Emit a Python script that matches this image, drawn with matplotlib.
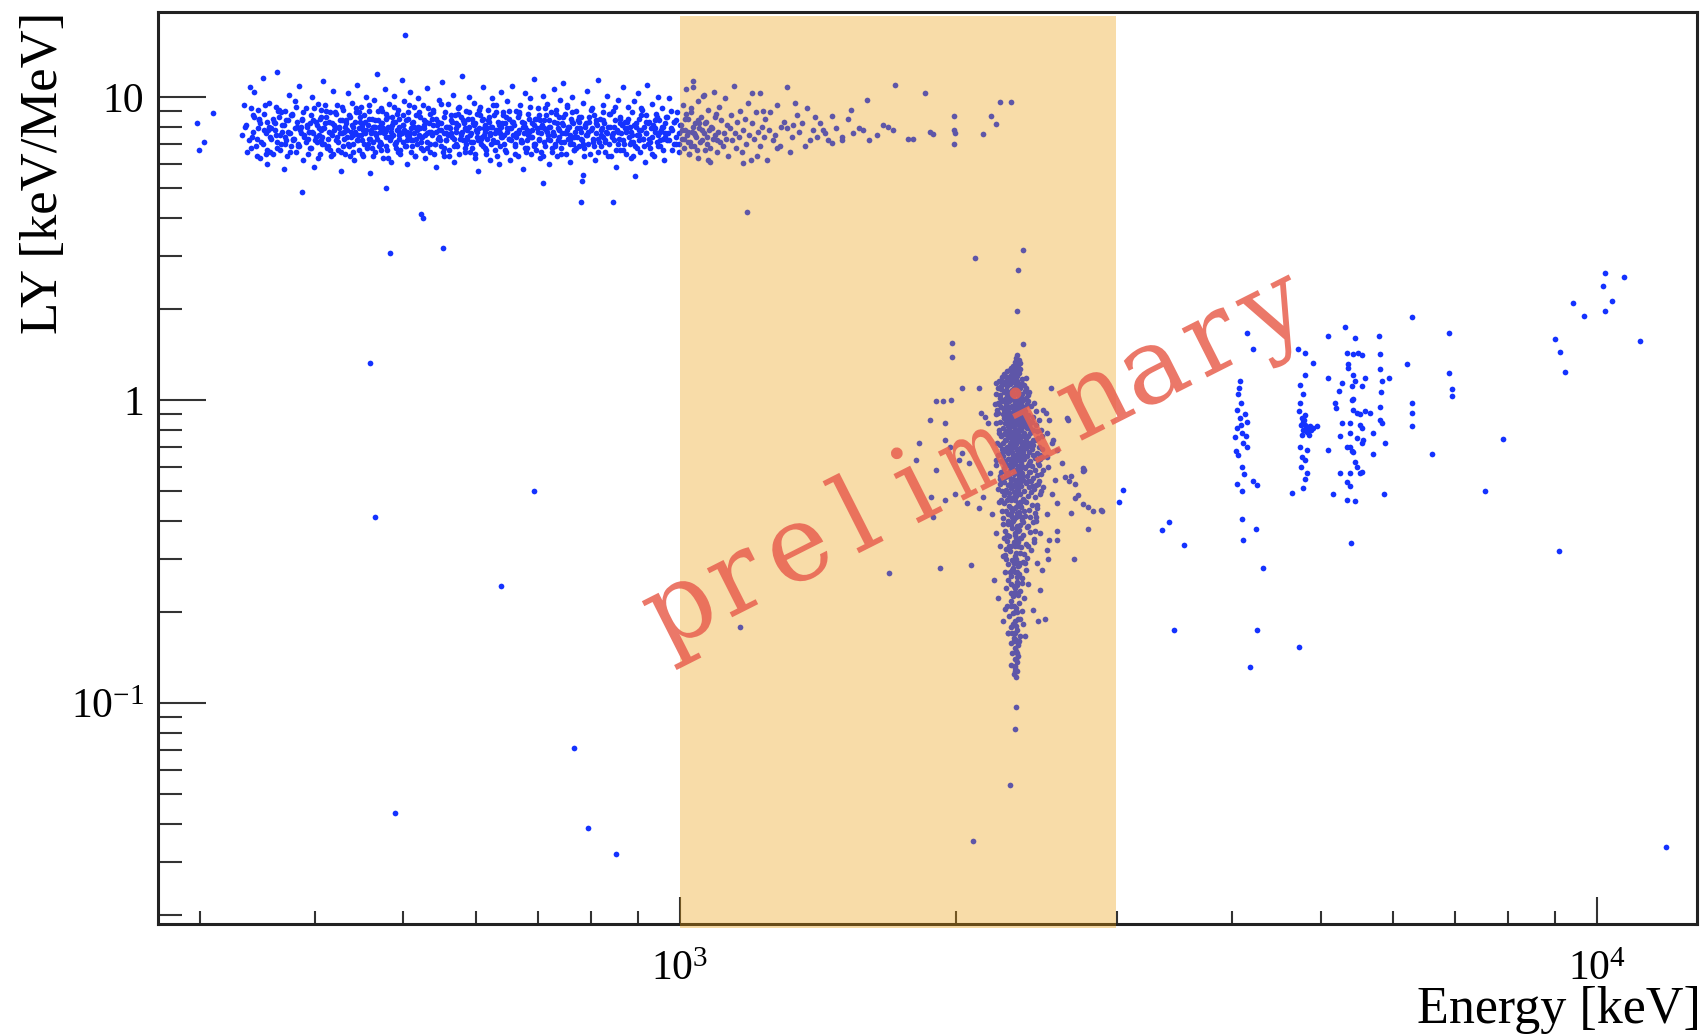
import numpy as np
import matplotlib.pyplot as plt
from matplotlib.patches import Rectangle, PathPatch
from matplotlib.textpath import TextPath
from matplotlib.font_manager import FontProperties
from matplotlib.transforms import Affine2D, IdentityTransform
from matplotlib.ticker import FixedLocator, FixedFormatter, LogLocator, NullFormatter

plt.rcParams['font.family'] = ['Liberation Serif', 'DejaVu Serif']
plt.rcParams['mathtext.fontset'] = 'custom'
plt.rcParams['mathtext.rm'] = 'Liberation Serif'
plt.rcParams['mathtext.default'] = 'rm'

# points: (energy [keV], LY [keV/MeV])
band_a = [
    (333, 7.5), (335, 9.4), (337, 8.1), (338, 6.6), (340, 10.8), (341, 6.8), (343, 8.7), (344, 10.4),
    (346, 7.3), (347, 9.1), (348, 8.5), (349, 6.3), (351, 11.6), (352, 7.8), (354, 6.5), (355, 6.0),
    (355, 8.3), (357, 9.6), (358, 7.4), (359, 7.9), (360, 6.5), (362, 8.2), (363, 9.3), (364, 12.1),
    (364, 7.1), (366, 8.6), (367, 6.7), (368, 8.9), (369, 7.7), (370, 5.8), (371, 9.0), (372, 7.2),
    (374, 8.4), (375, 10.2), (376, 7.6), (377, 6.9), (378, 8.8), (379, 7.3), (381, 9.7), (382, 6.6),
    (383, 8.0), (384, 7.0), (385, 10.9), (386, 7.8), (388, 8.5), (389, 6.2), (390, 7.5), (391, 9.2),
    (392, 8.1), (393, 7.3), (395, 6.8), (396, 8.7), (397, 10.0), (398, 7.6), (399, 5.9), (401, 8.3),
    (402, 7.1), (403, 9.5), (404, 7.9), (405, 6.5), (407, 8.6), (408, 7.4), (409, 11.3), (410, 7.0),
    (411, 8.2), (412, 9.0), (414, 6.9), (415, 7.7), (416, 8.9), (417, 6.4), (418, 7.5), (419, 10.5),
    (421, 8.0), (422, 7.2), (423, 9.4), (424, 6.7), (425, 7.9), (426, 8.4), (427, 5.7), (429, 7.6),
    (371, 7.4), (387, 8.0), (394, 7.7), (406, 7.8), (420, 8.1),
]
band_b = [
    (430, 9.1), (431, 7.3), (432, 6.5), (433, 8.2), (434, 7.8), (435, 10.3), (436, 6.9), (437, 8.6),
    (438, 7.4), (439, 9.6), (440, 7.0), (441, 8.0), (442, 6.2), (443, 7.7), (444, 8.9), (445, 11.0),
    (446, 7.5), (447, 6.7), (448, 8.3), (449, 9.3), (450, 7.2), (451, 7.9), (452, 6.4), (453, 8.7),
    (454, 7.6), (455, 10.0), (456, 6.8), (457, 8.1), (458, 7.3), (459, 9.0), (460, 5.6), (461, 7.8),
    (462, 8.5), (463, 7.1), (464, 9.8), (465, 6.6), (466, 8.0), (467, 7.5), (468, 11.9), (469, 8.4),
    (470, 6.9), (471, 7.7), (472, 9.2), (473, 7.0), (474, 8.2), (475, 6.3), (476, 7.6), (477, 10.6),
    (478, 8.8), (479, 7.4), (480, 6.7), (481, 8.0), (482, 9.5), (483, 7.2), (484, 7.9), (485, 6.1),
    (486, 8.6), (487, 7.5), (488, 10.1), (489, 7.0), (490, 8.3), (491, 6.8), (492, 7.8), (493, 9.1),
    (494, 7.3), (495, 8.5), (496, 6.5), (497, 7.6), (498, 11.4), (499, 8.1), (500, 7.1), (501, 9.7),
    (502, 6.9), (503, 8.4), (504, 7.7), (505, 6.0), (506, 8.9), (507, 7.4), (508, 10.4), (509, 7.9),
    (510, 6.6), (511, 8.2), (512, 7.2), (513, 9.3), (514, 7.6), (515, 6.4), (516, 8.7), (517, 7.0),
    (518, 9.9), (519, 8.0), (520, 7.5), (447, 7.9), (463, 8.0), (478, 7.8), (494, 7.7),
]
band_c = [
    (521, 8.6), (522, 6.8), (524, 7.4), (525, 9.4), (526, 7.9), (528, 6.3), (529, 8.3), (530, 7.1),
    (531, 10.7), (533, 7.7), (534, 8.8), (535, 6.6), (537, 7.5), (538, 9.1), (539, 8.1), (541, 7.0),
    (542, 5.9), (543, 8.5), (545, 7.3), (546, 9.8), (547, 7.8), (549, 6.9), (550, 8.2), (551, 11.2),
    (553, 7.6), (554, 6.4), (555, 8.9), (557, 7.2), (558, 8.0), (559, 9.5), (561, 6.7), (562, 7.9),
    (563, 8.4), (565, 7.4), (566, 10.2), (567, 6.1), (569, 8.7), (570, 7.7), (571, 7.0), (573, 9.2),
    (574, 8.1), (575, 6.5), (577, 7.5), (578, 8.6), (579, 11.7), (581, 7.2), (582, 8.3), (583, 6.8),
    (585, 9.0), (586, 7.8), (587, 7.3), (589, 8.0), (590, 10.0), (591, 6.6), (593, 7.6), (594, 8.5),
    (595, 7.1), (597, 9.6), (598, 6.3), (599, 8.2), (601, 7.4), (602, 8.8), (603, 5.7), (605, 7.9),
    (606, 9.3), (607, 7.0), (609, 8.4), (610, 6.9), (611, 10.8), (613, 7.7), (614, 8.1), (615, 6.5),
    (617, 7.3), (618, 9.1), (619, 8.6), (621, 7.5), (622, 6.2), (623, 8.0), (625, 9.9), (626, 7.2),
    (627, 8.7), (629, 6.7), (630, 7.8), (631, 9.4), (633, 7.1), (634, 8.3), (635, 6.0), (637, 7.6),
    (638, 10.4), (639, 8.0), (640, 7.4), (556, 7.6), (584, 7.9), (612, 7.5), (636, 7.8),
]
band_d = [
    (642, 8.9), (643, 7.0), (645, 8.2), (646, 6.6), (648, 7.7), (649, 9.7), (651, 7.3), (652, 8.5),
    (654, 6.2), (655, 7.9), (657, 10.9), (658, 7.5), (660, 8.1), (661, 6.9), (663, 9.0), (664, 7.4),
    (666, 8.6), (667, 6.4), (669, 7.8), (670, 9.4), (672, 7.1), (673, 8.3), (675, 5.8), (676, 7.6),
    (678, 10.3), (679, 8.0), (681, 6.8), (682, 7.2), (684, 8.8), (685, 7.7), (687, 9.9), (688, 6.5),
    (690, 8.2), (691, 7.4), (693, 11.5), (694, 7.0), (696, 8.5), (697, 6.7), (699, 7.9), (700, 9.2),
    (702, 7.3), (703, 8.7), (705, 6.3), (706, 7.6), (708, 8.1), (709, 10.1), (711, 7.1), (712, 8.4),
    (714, 6.9), (715, 7.8), (717, 9.5), (718, 7.5), (720, 6.0), (721, 8.0), (723, 7.2), (724, 8.9),
    (726, 6.6), (727, 7.7), (729, 10.6), (730, 8.3), (732, 7.0), (733, 9.1), (735, 6.4), (736, 7.9),
    (738, 8.6), (739, 7.4), (741, 9.8), (742, 6.8), (744, 8.2), (745, 7.6), (747, 11.1), (748, 7.1),
    (750, 8.8), (751, 6.5), (753, 7.8), (754, 9.3), (756, 7.3), (757, 8.0), (759, 6.1), (760, 7.5),
    (762, 8.5), (763, 10.0), (765, 7.0), (766, 8.2), (768, 6.7), (769, 7.7), (771, 9.0), (772, 7.4),
    (774, 8.4), (776, 6.9), (778, 7.9),
]
band_e = [
    (780, 8.6), (782, 7.2), (784, 9.6), (786, 6.8), (788, 8.0), (790, 7.5), (792, 10.5), (794, 7.0),
    (796, 8.3), (798, 6.5), (800, 7.8), (802, 9.2), (804, 7.3), (806, 8.7), (808, 6.2), (810, 7.6),
    (812, 8.1), (814, 11.4), (816, 7.1), (818, 8.5), (820, 6.9), (822, 7.9), (824, 9.4), (826, 7.4),
    (828, 8.2), (830, 6.6), (832, 7.7), (834, 10.1), (836, 8.0), (838, 7.0), (840, 8.8), (842, 6.4),
    (844, 7.5), (846, 9.0), (848, 7.2), (850, 8.4), (852, 5.9), (854, 7.8), (856, 9.8), (858, 7.3),
    (860, 8.6), (862, 6.7), (864, 7.6), (866, 8.1), (868, 10.8), (870, 7.0), (872, 8.3), (874, 6.5),
    (876, 7.9), (878, 9.3), (880, 7.4), (882, 8.0), (884, 6.3), (886, 7.7), (888, 8.9), (890, 7.1),
    (892, 9.7), (894, 6.9), (896, 8.2), (898, 7.5), (900, 10.3), (902, 7.2), (904, 8.5), (906, 6.6),
    (908, 7.8), (910, 9.1), (912, 7.3), (914, 8.0), (916, 6.1), (918, 7.6), (920, 8.7), (922, 11.0),
    (924, 7.0), (926, 8.3), (928, 6.8), (930, 7.9), (932, 9.5), (934, 7.4), (936, 8.1), (938, 6.4),
    (940, 7.7), (942, 8.8), (944, 7.1), (946, 10.0), (948, 7.5), (950, 8.4), (952, 6.9), (954, 7.8),
    (956, 9.2), (958, 7.3), (960, 8.0), (962, 6.2), (964, 7.6), (966, 8.6), (970, 7.2), (974, 9.9),
    (978, 7.9), (982, 6.7), (986, 8.3), (990, 7.4), (994, 8.9), (998, 7.0),
]
band_core = [
    (342, 7.4), (344, 8.6), (345, 6.9), (347, 7.9), (349, 8.2), (350, 7.1), (352, 8.8), (354, 7.6),
    (355, 6.7), (357, 8.0), (359, 7.3), (360, 8.5), (362, 7.8), (364, 6.8), (365, 9.0), (367, 7.5),
    (369, 8.1), (371, 7.0), (372, 8.4), (374, 7.7), (376, 6.6), (378, 8.7), (379, 7.2), (381, 7.9),
    (383, 8.3), (385, 6.9), (387, 7.6), (389, 8.9), (390, 7.4), (392, 8.0), (394, 7.7), (396, 6.8),
    (398, 8.4), (400, 7.2), (402, 8.1), (404, 7.5), (406, 9.1), (408, 7.0), (410, 7.9), (412, 8.6),
    (414, 7.3), (416, 6.7), (418, 8.2), (420, 7.8), (422, 8.8), (424, 7.1), (426, 7.6), (428, 8.4),
    (430, 6.9), (432, 8.0), (434, 7.4), (436, 8.7), (438, 7.7), (440, 6.6), (443, 8.3), (445, 7.2),
    (447, 8.9), (449, 7.5), (451, 8.1), (453, 7.0), (455, 7.8), (458, 8.5), (460, 7.3), (462, 6.8),
    (464, 8.0), (466, 7.6), (469, 9.0), (471, 7.1), (473, 8.2), (475, 7.9), (478, 6.9), (480, 8.6),
    (482, 7.4), (485, 7.7), (487, 8.3), (489, 7.0), (492, 8.8), (494, 7.5), (496, 6.7), (499, 8.1),
    (501, 7.8), (504, 7.2), (506, 8.5), (508, 7.6), (511, 6.9), (513, 8.0), (516, 7.3), (518, 8.7),
    (521, 7.9), (523, 7.1), (526, 8.4), (528, 7.5), (531, 6.8), (533, 8.2), (536, 7.7), (539, 8.9),
    (541, 7.0), (544, 8.1), (546, 7.4), (549, 7.8), (552, 6.6), (554, 8.6), (557, 7.2), (560, 8.0),
    (563, 7.6), (565, 8.3), (568, 6.9), (571, 7.9), (574, 8.8), (576, 7.3), (579, 7.7), (582, 8.2),
    (585, 7.0), (588, 8.5), (591, 7.5), (594, 6.8), (597, 8.1), (600, 7.8), (603, 7.2), (606, 8.7),
    (609, 7.4), (612, 7.9), (615, 6.7), (618, 8.4), (621, 7.6), (625, 8.0), (628, 7.1), (631, 8.9),
    (634, 7.7), (637, 6.9), (641, 8.2), (644, 7.5), (647, 8.6), (651, 7.3), (654, 7.9), (657, 8.3),
    (661, 7.0), (664, 7.6), (668, 8.8), (671, 7.2), (675, 8.0), (678, 6.8), (682, 7.8), (685, 8.5),
    (689, 7.4), (693, 8.1), (696, 7.0), (700, 7.7), (704, 8.4), (707, 6.6), (711, 7.9), (715, 8.7),
    (719, 7.3), (723, 8.0), (727, 7.5), (731, 6.9), (735, 8.2), (739, 7.8), (743, 7.1), (747, 8.6),
    (751, 7.6), (755, 8.0), (759, 7.2), (763, 8.9), (767, 7.4), (771, 6.8), (776, 8.3), (780, 7.7),
    (784, 7.0), (789, 8.1), (793, 7.5), (797, 8.6), (802, 7.9), (806, 6.9), (811, 8.2), (815, 7.3),
    (820, 7.8), (824, 8.4), (829, 7.1), (834, 7.6), (838, 8.8), (843, 7.4), (848, 8.0), (853, 6.7),
    (857, 7.7), (862, 8.5), (867, 7.2), (872, 7.9), (877, 8.3), (882, 7.0), (887, 7.5), (892, 8.1),
    (898, 6.8), (903, 7.8), (908, 8.7), (913, 7.3), (918, 7.6), (924, 8.2), (929, 7.1), (935, 7.9),
    (940, 8.4), (946, 6.9), (951, 7.7), (957, 8.0), (963, 7.4), (968, 8.6), (974, 7.2), (980, 7.8),
    (986, 8.3), (992, 7.0), (998, 7.6), (1004, 8.1), (1010, 7.3), (1016, 8.8), (1022, 7.7), (1028, 6.9),
    (1034, 8.0), (1040, 7.5), (1046, 8.4), (1052, 7.1), (1059, 7.8), (1065, 8.2), (1072, 7.4),
    (1078, 6.8), (1085, 7.9), (1092, 8.6), (1098, 7.2),
]
band_core2 = [
    (336, 8.0), (339, 7.2), (341, 9.2), (343, 7.7), (346, 6.4), (348, 8.4), (351, 7.0), (353, 9.4),
    (356, 7.8), (358, 6.6), (361, 8.3), (363, 7.5), (366, 9.1), (368, 7.0), (370, 8.1), (373, 6.4),
    (375, 7.6), (377, 8.7), (380, 7.3), (382, 9.3), (384, 6.9), (386, 7.9), (388, 8.4), (391, 7.1),
    (393, 6.5), (395, 8.2), (397, 7.7), (399, 9.2), (401, 7.4), (403, 6.3), (405, 8.5), (407, 7.2),
    (409, 7.9), (411, 9.4), (413, 6.8), (415, 8.3), (417, 7.6), (419, 6.5), (421, 8.9), (423, 7.4),
    (425, 8.0), (427, 6.6), (429, 9.3), (431, 7.7), (433, 8.4), (435, 7.0), (437, 6.4), (439, 8.1),
    (441, 7.5), (444, 9.2), (446, 7.2), (448, 8.6), (450, 6.5), (452, 7.8), (454, 8.3), (457, 7.0),
    (459, 9.4), (461, 7.6), (463, 6.4), (465, 8.4), (468, 7.3), (470, 8.0), (472, 6.7), (474, 9.0),
    (477, 7.7), (479, 8.5), (481, 6.3), (484, 7.4), (486, 8.1), (488, 9.3), (491, 7.1), (493, 6.6),
    (495, 8.0), (498, 7.6), (500, 8.7), (503, 6.9), (505, 7.5), (507, 9.4), (510, 7.2), (512, 8.3),
    (515, 6.4), (517, 7.8), (520, 8.9), (522, 7.4), (525, 6.7), (527, 8.1), (530, 7.6), (532, 9.2),
    (535, 7.0), (537, 8.5), (540, 6.5), (543, 7.7), (545, 8.3), (548, 7.2), (550, 9.5), (553, 6.8),
    (556, 8.0), (559, 7.5), (561, 6.4), (564, 8.7), (567, 7.3), (570, 8.2), (572, 6.9), (575, 9.3),
    (578, 7.6), (581, 8.4), (584, 6.6), (587, 7.4), (590, 8.9), (592, 7.1), (595, 8.2), (598, 6.5),
    (601, 7.7), (604, 9.1), (607, 7.3), (610, 8.5), (613, 6.8), (616, 7.9), (619, 8.3), (623, 7.0),
    (626, 9.4), (629, 7.6), (632, 6.4), (635, 8.1), (639, 7.4), (642, 8.7), (645, 6.7), (649, 7.9),
    (652, 9.0), (655, 7.2), (659, 8.3), (662, 6.5), (666, 7.6), (669, 8.9), (673, 7.1), (676, 8.2),
    (680, 6.6), (683, 7.5), (687, 9.3), (691, 7.8), (694, 6.9), (698, 8.5), (702, 7.2), (706, 8.0),
    (710, 6.4), (713, 9.2), (717, 7.7), (721, 8.4), (725, 6.8), (729, 7.5), (733, 8.8), (737, 7.2),
    (742, 6.5), (746, 8.1), (750, 7.6), (754, 9.4), (759, 7.0), (763, 8.3), (768, 6.7), (772, 7.9),
    (777, 8.6), (781, 7.3), (786, 6.4), (791, 8.2), (795, 7.7), (800, 9.1), (805, 7.1), (810, 8.4),
    (815, 6.6), (820, 7.5), (825, 8.9), (830, 7.2), (835, 6.4), (840, 8.0), (846, 7.6), (851, 9.3),
    (856, 7.0), (862, 8.2), (867, 6.7), (873, 7.7), (879, 8.5), (884, 7.1), (890, 6.4), (896, 8.0),
    (902, 7.5), (908, 9.2), (914, 6.9), (920, 8.3), (926, 7.3), (933, 6.5), (939, 7.9), (945, 8.6),
    (952, 7.2), (958, 6.7), (965, 8.2), (971, 7.6), (978, 9.0), (985, 7.0), (992, 8.4), (999, 6.6),
    (1007, 7.8), (1014, 8.5), (1021, 7.1), (1029, 9.2), (1036, 7.6), (1044, 6.7), (1051, 8.2),
]
band_f = [
    (1002, 8.1), (1005, 7.3), (1008, 9.4), (1010, 6.8), (1013, 7.8), (1016, 10.6), (1018, 7.5),
    (1021, 8.5), (1024, 6.5), (1026, 7.1), (1029, 8.9), (1032, 7.7), (1035, 11.3), (1037, 6.9),
    (1040, 8.2), (1043, 7.4), (1046, 9.7), (1048, 6.3), (1051, 7.9), (1054, 8.6), (1057, 7.2),
    (1060, 10.1), (1062, 7.6), (1065, 6.7), (1068, 8.3), (1071, 7.0), (1074, 9.1), (1077, 7.8),
    (1080, 6.1), (1083, 8.0), (1086, 7.3), (1089, 10.4), (1092, 7.5), (1095, 8.8), (1098, 6.6),
    (1101, 7.7), (1104, 9.3), (1107, 7.1), (1110, 8.4), (1114, 6.9), (1117, 7.6), (1120, 9.9),
    (1124, 7.3), (1127, 8.1), (1130, 6.4), (1134, 7.9), (1137, 8.7), (1141, 7.2), (1145, 10.9),
    (1148, 7.6), (1152, 6.8), (1156, 8.3), (1160, 7.4), (1164, 9.0), (1168, 6.6), (1172, 7.8),
    (1177, 8.5), (1181, 7.0), (1186, 9.6), (1190, 7.5), (1195, 6.2), (1200, 8.2), (1205, 7.3),
    (1211, 8.9), (1217, 7.7), (1223, 6.9), (1229, 8.0), (1235, 7.4),
]
band_g = [
    (1309, 10.8), (1198, 10.3), (1222, 10.3), (1276, 9.4), (1335, 9.6), (1375, 9.2), (1466, 8.65),
    (1536, 9.1), (1599, 9.8), (1715, 11.0), (1525, 8.5), (1502, 7.4), (1505, 7.2), (1570, 7.9),
    (1583, 7.8), (1640, 7.5), (1664, 8.1), (1686, 8.0), (1708, 7.8), (1773, 7.3), (1422, 8.2),
    (1432, 7.8), (1450, 7.2), (1466, 7.05), (1318, 6.6), (1244, 6.2), (1171, 6.05), (1214, 6.4),
    (1386, 7.2), (1410, 7.4), (1396, 7.8), (1361, 8.2), (1301, 8.3), (1309, 7.9), (1342, 8.7),
    (1253, 7.8), (1263, 7.2), (1278, 6.8), (1232, 9.0), (1238, 8.5), (1850, 10.3), (2233, 9.65),
    (2296, 9.65), (1991, 8.65), (2187, 8.65), (2213, 8.15), (2143, 7.55), (1991, 7.8), (1998, 7.6),
    (1991, 7.0), (1874, 7.7), (1890, 7.55), (1795, 7.3), (1270, 7.5), (1290, 8.0), (1325, 7.4),
    (1350, 7.7), (1285, 6.9), (1370, 6.9), (1405, 8.6), (1440, 7.6), (1480, 7.9), (1545, 7.6),
    (1610, 7.2), (1255, 8.9), (1330, 8.1), (1035, 10.8), (1062, 10.2), (1075, 6.2), (1025, 6.5),
]
blob_top = [
    (2335, 1.41), (2329, 1.38), (2341, 1.36), (2318, 1.34), (2347, 1.33), (2325, 1.31), (2310, 1.30),
    (2338, 1.29), (2300, 1.28), (2352, 1.27), (2290, 1.26), (2330, 1.26), (2272, 1.25), (2315, 1.24),
    (2345, 1.23), (2260, 1.22), (2300, 1.21), (2335, 1.20), (2245, 1.19), (2282, 1.19), (2322, 1.18),
    (2360, 1.17), (2230, 1.16), (2268, 1.16), (2305, 1.15), (2340, 1.14), (2210, 1.14), (2255, 1.13),
    (2290, 1.13), (2328, 1.12), (2372, 1.12), (2240, 1.11), (2275, 1.11), (2312, 1.10), (2350, 1.10),
    (2385, 1.10), (2225, 1.10), (2296, 1.17), (2264, 1.20), (2320, 1.28),
]
blob_upper = [
    (2240, 1.09), (2270, 1.08), (2305, 1.08), (2340, 1.07), (2378, 1.07), (2255, 1.06), (2288, 1.06),
    (2322, 1.05), (2360, 1.05), (2395, 1.04), (2236, 1.04), (2275, 1.03), (2310, 1.03), (2348, 1.02),
    (2385, 1.02), (2262, 1.01), (2296, 1.01), (2332, 1.00), (2368, 1.00), (2248, 0.99), (2283, 0.99),
    (2318, 0.98), (2355, 0.98), (2390, 0.97), (2268, 0.97), (2302, 0.96), (2338, 0.96), (2375, 0.95),
    (2242, 0.95), (2290, 0.95), (2325, 0.94), (2360, 0.94), (2258, 0.93), (2312, 0.93), (2345, 0.92),
    (2382, 0.92), (2275, 0.91), (2300, 0.91), (2335, 0.91), (2368, 0.90), (2250, 0.90), (2288, 0.90),
    (2320, 0.89), (2352, 0.89), (2395, 0.89), (2265, 0.88), (2305, 0.88), (2340, 0.88), (2378, 0.88),
    (2228, 0.97), (2232, 1.02), (2330, 1.09), (2400, 0.99), (2220, 0.93), (2315, 1.00), (2350, 0.97),
    (2280, 0.93), (2298, 1.04), (2362, 1.01), (2328, 0.92),
]
blob_mid1 = [
    (2255, 0.875), (2290, 0.872), (2325, 0.870), (2360, 0.866), (2398, 0.862), (2270, 0.858),
    (2308, 0.855), (2342, 0.852), (2380, 0.848), (2420, 0.845), (2262, 0.840), (2298, 0.837),
    (2333, 0.834), (2368, 0.830), (2405, 0.826), (2278, 0.822), (2315, 0.819), (2350, 0.815),
    (2390, 0.812), (2250, 0.808), (2288, 0.805), (2322, 0.801), (2358, 0.798), (2430, 0.795),
    (2268, 0.791), (2305, 0.788), (2340, 0.784), (2375, 0.780), (2412, 0.777), (2258, 0.773),
    (2295, 0.770), (2330, 0.766), (2365, 0.762), (2400, 0.759), (2280, 0.755), (2318, 0.752),
    (2352, 0.748), (2388, 0.745), (2425, 0.741), (2265, 0.738), (2302, 0.734), (2338, 0.731),
    (2372, 0.727), (2410, 0.724), (2252, 0.720), (2290, 0.717), (2325, 0.714), (2362, 0.710),
    (2398, 0.707), (2275, 0.703), (2312, 0.700), (2348, 0.697), (2385, 0.694), (2420, 0.691),
    (2260, 0.688), (2300, 0.686), (2335, 0.686), (2370, 0.689), (2328, 0.845), (2345, 0.790),
    (2310, 0.760), (2356, 0.725), (2285, 0.780), (2320, 0.830), (2375, 0.705), (2292, 0.700),
    (2340, 0.855), (2305, 0.742), (2360, 0.818), (2318, 0.776),
]
blob_mid2 = [
    (2268, 0.682), (2341, 0.679), (2405, 0.676), (2302, 0.673), (2455, 0.670), (2279, 0.667),
    (2366, 0.664), (2320, 0.661), (2428, 0.658), (2254, 0.655), (2389, 0.652), (2311, 0.649),
    (2347, 0.646), (2442, 0.643), (2286, 0.640), (2373, 0.637), (2330, 0.634), (2412, 0.631),
    (2262, 0.628), (2297, 0.625), (2356, 0.622), (2460, 0.619), (2318, 0.616), (2398, 0.613),
    (2275, 0.610), (2337, 0.607), (2420, 0.604), (2305, 0.601), (2382, 0.598), (2258, 0.595),
    (2349, 0.592), (2438, 0.589), (2291, 0.586), (2325, 0.583), (2408, 0.580), (2270, 0.577),
    (2362, 0.574), (2315, 0.571), (2450, 0.568), (2283, 0.565), (2392, 0.562), (2343, 0.559),
    (2265, 0.556), (2425, 0.553), (2308, 0.550), (2370, 0.547), (2298, 0.544), (2415, 0.541),
    (2333, 0.538), (2256, 0.535), (2385, 0.532), (2322, 0.529), (2445, 0.526), (2280, 0.523),
    (2355, 0.520), (2402, 0.517), (2295, 0.514), (2338, 0.511), (2432, 0.508), (2268, 0.505),
    (2376, 0.502), (2312, 0.499), (2418, 0.496), (2287, 0.493), (2350, 0.490), (2260, 0.487),
    (2395, 0.484), (2328, 0.481), (2440, 0.478), (2302, 0.475), (2365, 0.472), (2276, 0.470),
    (2330, 0.660), (2310, 0.620), (2345, 0.585), (2320, 0.545), (2340, 0.505), (2315, 0.480),
    (2350, 0.640), (2300, 0.600), (2360, 0.560), (2290, 0.530), (2335, 0.690), (2325, 0.500),
    (2355, 0.610), (2318, 0.590), (2342, 0.527), (2308, 0.655),
]
blob_low1 = [
    (2300, 0.467), (2372, 0.463), (2255, 0.459), (2338, 0.455), (2420, 0.451), (2285, 0.447),
    (2355, 0.443), (2318, 0.439), (2402, 0.435), (2266, 0.431), (2345, 0.427), (2440, 0.423),
    (2295, 0.419), (2380, 0.415), (2328, 0.411), (2250, 0.407), (2362, 0.403), (2310, 0.399),
    (2425, 0.395), (2278, 0.391), (2348, 0.387), (2395, 0.383), (2305, 0.379), (2335, 0.375),
    (2262, 0.371), (2410, 0.367), (2322, 0.363), (2368, 0.359), (2288, 0.355), (2352, 0.351),
    (2432, 0.347), (2272, 0.343), (2340, 0.339), (2388, 0.335), (2300, 0.331), (2358, 0.327),
    (2268, 0.323), (2415, 0.321), (2325, 0.445), (2315, 0.405), (2342, 0.372), (2312, 0.340),
    (2330, 0.425), (2296, 0.390), (2350, 0.460), (2320, 0.358), (2338, 0.330), (2305, 0.430),
    (2365, 0.395), (2282, 0.420), (2332, 0.385), (2348, 0.415), (2318, 0.468), (2326, 0.350),
]
blob_low2 = [
    (2290, 0.318), (2350, 0.314), (2265, 0.309), (2322, 0.305), (2392, 0.301), (2305, 0.296),
    (2370, 0.292), (2278, 0.288), (2338, 0.284), (2310, 0.280), (2385, 0.275), (2262, 0.271),
    (2345, 0.267), (2300, 0.263), (2362, 0.259), (2282, 0.255), (2330, 0.251), (2398, 0.247),
    (2315, 0.243), (2270, 0.239), (2352, 0.235), (2295, 0.231), (2340, 0.228), (2308, 0.225),
    (2375, 0.222), (2325, 0.300), (2318, 0.270), (2335, 0.245), (2312, 0.290), (2330, 0.260),
    (2298, 0.248), (2345, 0.285), (2320, 0.232), (2328, 0.312), (2305, 0.275),
]
blob_low3 = [
    (2300, 0.218), (2345, 0.214), (2275, 0.210), (2325, 0.206), (2362, 0.202), (2310, 0.198),
    (2288, 0.194), (2340, 0.190), (2318, 0.186), (2370, 0.182), (2295, 0.178), (2332, 0.174),
    (2280, 0.170), (2350, 0.167), (2312, 0.164), (2325, 0.161), (2298, 0.158), (2340, 0.155),
    (2318, 0.152), (2330, 0.200), (2308, 0.183), (2322, 0.170), (2336, 0.158), (2315, 0.210),
]
blob_tail = [
    (2325, 0.149), (2305, 0.146), (2340, 0.143), (2318, 0.140), (2330, 0.137), (2300, 0.134),
    (2322, 0.131), (2335, 0.128), (2312, 0.125), (2328, 0.122), (2318, 0.133), (2330, 0.146),
]
blob_edge = [
    (2215, 1.05), (2248, 1.15), (2385, 1.18), (2402, 1.06), (2222, 0.98), (2415, 0.96), (2210, 0.90),
    (2430, 0.88), (2235, 0.85), (2445, 0.83), (2228, 0.80), (2455, 0.79), (2240, 0.76), (2440, 0.74),
    (2232, 0.71), (2465, 0.70), (2245, 0.67), (2470, 0.66), (2238, 0.63), (2462, 0.61), (2242, 0.58),
    (2475, 0.57), (2236, 0.55), (2458, 0.53), (2244, 0.50), (2468, 0.49), (2240, 0.47), (2452, 0.45),
    (2246, 0.43), (2448, 0.41), (2250, 0.39), (2442, 0.37), (2255, 0.35), (2436, 0.34),
    (2310, 1.22), (2330, 1.16), (2345, 1.03), (2318, 0.95), (2335, 0.86), (2300, 0.82), (2352, 0.76),
    (2322, 0.72), (2340, 0.66), (2306, 0.63), (2345, 0.57), (2315, 0.52), (2330, 0.49), (2350, 0.45),
    (2305, 0.41), (2338, 0.37), (2320, 0.33), (2312, 0.29), (2334, 0.27), (2322, 0.24), (2318, 0.20),
    (2326, 0.18), (2316, 0.16), (2329, 0.14), (2321, 0.128),
    (2282, 1.14), (2360, 1.13), (2275, 0.96), (2372, 0.93), (2285, 0.85), (2390, 0.82), (2270, 0.74),
    (2395, 0.72), (2280, 0.64), (2405, 0.62), (2272, 0.56), (2395, 0.54), (2285, 0.48), (2385, 0.46),
    (2278, 0.40), (2392, 0.38), (2288, 0.33), (2372, 0.31), (2292, 0.27), (2362, 0.25), (2298, 0.21),
    (2348, 0.19), (2305, 0.17), (2342, 0.16),
]
blob_wide = [
    (2205, 0.97), (2226, 0.91), (2212, 0.84), (2230, 0.78), (2219, 0.72), (2226, 0.66), (2214, 0.61),
    (2232, 0.56), (2221, 0.51), (2229, 0.46), (2436, 0.98), (2448, 0.92), (2462, 0.86), (2474, 0.80),
    (2458, 0.75), (2484, 0.69), (2470, 0.64), (2488, 0.59), (2465, 0.54), (2478, 0.50), (2455, 0.44),
    (2446, 0.40), (2262, 0.94), (2292, 0.87), (2356, 0.84), (2380, 0.86), (2412, 0.81), (2268, 0.79),
    (2298, 0.73), (2366, 0.68), (2428, 0.71), (2248, 0.69), (2286, 0.61), (2376, 0.60), (2402, 0.58),
    (2258, 0.62), (2296, 0.55), (2358, 0.54), (2422, 0.52), (2264, 0.50), (2300, 0.44), (2372, 0.43),
    (2408, 0.41), (2276, 0.36), (2356, 0.35), (2398, 0.33), (2266, 0.30), (2344, 0.29), (2382, 0.29),
]
halo = [
    (1983, 1.54), (1983, 1.39), (2032, 1.10), (2118, 1.10), (1901, 0.99), (1936, 0.99), (1976, 1.00),
    (2540, 1.10), (2133, 0.91), (2152, 0.88), (2166, 0.84), (1874, 0.86), (1946, 0.84), (2650, 0.86),
    (2507, 0.91), (2642, 0.87), (1824, 0.72), (1808, 0.634), (1901, 0.588), (1946, 0.74), (1969, 0.70),
    (2018, 0.634), (2070, 0.62), (2032, 0.67), (2483, 0.76), (2546, 0.72), (2577, 0.685), (2513, 0.65),
    (2610, 0.62), (2760, 0.588), (2670, 0.56), (2700, 0.53), (1880, 0.479), (1946, 0.47), (1995, 0.49),
    (2055, 0.458), (2118, 0.44), (1890, 0.41), (2546, 0.49), (2577, 0.458), (2700, 0.474), (2785, 0.445),
    (2877, 0.435), (2670, 0.425), (2785, 0.375), (1690, 0.268), (1923, 0.28), (2080, 0.285), (2483, 0.275),
    (2690, 0.30), (2577, 0.345), (2513, 0.32), (2470, 0.236), (2430, 0.203), (2500, 0.19), (2460, 0.187),
    (2200, 0.255), (2225, 0.223), (2265, 0.205), (2250, 0.187), (2278, 0.17), (2754, 0.597), (2754, 0.585),
    (2715, 0.485), (2754, 0.455), (2820, 0.43), (2890, 0.43), (2563, 0.544), (2630, 0.556), (2660, 0.54),
    (2577, 0.37), (2530, 0.345), (2520, 0.30), (2377, 0.166), (2215, 0.634), (2180, 0.575), (2233, 0.53),
    (2141, 0.479), (2193, 0.42), (2215, 0.365), (2233, 0.33), (2250, 0.305), (2490, 0.93), (2530, 0.86),
    (2513, 0.78), (2550, 0.74), (2483, 0.65), (2520, 0.60), (2490, 0.515), (2513, 0.42), (2470, 0.365),
    (2450, 0.29),
]
alpha_a = [
    (4154, 1.67), (4219, 1.47), (4081, 1.16), (4060, 1.05), (4050, 0.93), (4081, 0.87), (4154, 0.85),
    (4050, 0.81), (4030, 0.755), (4102, 0.78), (4112, 0.72), (4154, 0.70), (4102, 0.60), (4050, 0.53),
    (4219, 0.54), (4261, 0.525), (4102, 0.50), (4102, 0.405), (4250, 0.375), (4112, 0.345), (4325, 0.279),
    (4261, 0.175), (4187, 0.132), (4070, 1.10), (4090, 0.98), (4130, 0.90), (4060, 0.66), (4120, 0.57),
    (4095, 0.83), (4140, 0.76), (4040, 0.68),
]
alpha_b = [
    (4721, 1.47), (4806, 1.43), (4906, 1.33), (4806, 1.21), (4745, 1.12), (4745, 0.98), (4769, 0.873),
    (4781, 0.846), (4806, 0.827), (4843, 0.815), (4906, 0.809), (4956, 0.82), (4781, 0.796), (4831, 0.784),
    (4769, 0.767), (4868, 0.82), (4806, 0.89), (4745, 0.70), (4831, 0.684), (4769, 0.648), (4806, 0.634),
    (4831, 0.574), (4781, 0.513), (4651, 0.495), (4800, 0.80), (4820, 0.79), (4760, 0.83), (4880, 0.80),
    (4790, 0.86), (4850, 0.77), (4730, 0.92), (4780, 1.05), (4760, 0.60), (4810, 0.55), (4733, 0.153),
]
alpha_c = [
    (5089, 1.63), (5309, 1.74), (5445, 1.60), (5784, 1.63), (5336, 1.43), (5418, 1.42), (5486, 1.43),
    (5542, 1.41), (5798, 1.42), (5350, 1.32), (5350, 1.28), (5798, 1.27), (5089, 1.18), (5418, 1.21),
    (5445, 1.16), (5404, 1.11), (5584, 1.18), (5542, 1.11), (5828, 1.16), (5930, 1.18), (5269, 1.14),
    (5230, 1.07), (5418, 1.01), (5404, 1.00), (5813, 1.06), (5178, 0.98), (5191, 0.94), (5418, 0.93),
    (5472, 0.91), (5514, 0.90), (5584, 0.92), (5655, 0.91), (5798, 0.95), (5269, 0.84), (5377, 0.84),
    (5514, 0.83), (5542, 0.81), (5798, 0.86), (5828, 0.84), (5243, 0.76), (5377, 0.78), (5472, 0.75),
    (5556, 0.74), (5697, 0.78), (5089, 0.685), (5336, 0.70), (5377, 0.70), (5404, 0.68), (5418, 0.675),
    (5542, 0.72), (5697, 0.665), (5871, 0.72), (5445, 0.625), (5472, 0.60), (5243, 0.575), (5377, 0.575),
    (5514, 0.575), (5542, 0.58), (5336, 0.535), (5377, 0.52), (5153, 0.49), (5336, 0.47), (5445, 0.465),
    (5857, 0.49), (5390, 0.337),
]
alpha_far = [
    (3042, 0.505), (3010, 0.46), (3412, 0.395), (3355, 0.372), (3548, 0.333), (3460, 0.175),
    (6280, 1.88), (6900, 1.66), (6900, 1.23), (6950, 1.09), (6950, 1.03), (6210, 1.32), (6290, 0.98),
    (6290, 0.91), (6290, 0.82), (6610, 0.664), (7890, 0.743), (7550, 0.50), (9100, 0.318), (8990, 1.59),
    (9120, 1.44), (9230, 1.24), (10200, 2.62), (10700, 2.55), (10160, 2.38), (10380, 2.12), (10200, 1.97),
    (9420, 2.10), (9690, 1.89), (11150, 1.57), (11890, 0.0335),
]
stray = [
    (502, 16.0), (298, 8.2), (310, 8.85), (303, 7.1), (299, 6.7), (388, 4.85), (479, 5.0), (523, 4.1),
    (525, 4.0), (483, 3.05), (552, 3.18), (709, 5.2), (780, 4.5), (845, 4.5), (893, 5.5), (782, 5.3),
    (784, 5.55), (1183, 4.17), (460, 1.33), (466, 0.41), (693, 0.50), (638, 0.243), (490, 0.0433),
    (768, 0.071), (794, 0.0386), (852, 0.0318), (1165, 0.178), (2087, 0.035), (2100, 2.95), (2366, 3.12),
    (2336, 2.69), (2331, 1.97), (2366, 1.53), (2325, 0.097), (2322, 0.082), (2291, 0.0536),
]

window_lo, window_hi = 1000, 2990   # highlighted energy window [keV]
x_ticks = [1e3, 1e4]
x_labels = [r'$10^{3}$', r'$10^{4}$']
y_ticks = [0.1, 1, 10]
y_labels = [r'$10^{-1}$', '1', '10']
watermark = 'preliminary'

fig = plt.figure(figsize=(17.08, 10.35), dpi=100)
ax = fig.add_axes([0.0925, 0.1072, 0.9010, 0.8812])
ax.set_xscale('log')
ax.set_yscale('log')
ax.set_xlim(270, 12850)
ax.set_ylim(0.01866, 19.1)

groups = [band_a, band_b, band_c, band_d, band_e, band_core, band_core2, band_f, band_g,
          blob_top, blob_upper, blob_mid1, blob_mid2, blob_low1, blob_low2, blob_low3, blob_tail,
          blob_edge, blob_wide, halo, alpha_a, alpha_b, alpha_c, alpha_far, stray]
pts = np.array([p for g in groups for p in g], dtype=float)
ax.plot(pts[:, 0], pts[:, 1], 'o', ms=4.1, mew=0, color='#1432ff', zorder=2)

# shaded window, drawn over the points like in the original
ax.add_patch(Rectangle((window_lo, 0.0181), window_hi - window_lo, 18.5 - 0.0181,
                       facecolor='#eb9b06', alpha=0.35, edgecolor='none', zorder=3, clip_on=False))

# watermark: slab-serif glyphs set on a fixed (typewriter) pitch along a slanted baseline
fp = FontProperties(family='DejaVu Serif')
em, pitch, ang = 106, 66.5, 26.8
cx, cy = 990, 1035 - 487
for i, ch in enumerate(watermark):
    tp = TextPath((0, 0), ch, size=em, prop=fp)
    bb = tp.get_extents()
    sx = min(1.0, 0.92 * pitch / bb.width)
    off = (i - (len(watermark) - 1) / 2) * pitch
    tr = (Affine2D().translate(-(bb.x0 + bb.x1) / 2, 0).scale(sx, 1)
          .translate(off, 0).rotate_deg(ang).translate(cx, cy))
    fig.add_artist(PathPatch(tr.transform_path(tp), transform=IdentityTransform(),
                             facecolor='#e8604f', edgecolor='none', alpha=0.85, zorder=5))

ax.xaxis.set_major_locator(FixedLocator(x_ticks))
ax.xaxis.set_major_formatter(FixedFormatter(x_labels))
ax.xaxis.set_minor_locator(LogLocator(base=10, subs=np.arange(2, 10)))
ax.xaxis.set_minor_formatter(NullFormatter())
ax.yaxis.set_major_locator(FixedLocator(y_ticks))
ax.yaxis.set_major_formatter(FixedFormatter(y_labels))
ax.yaxis.set_minor_locator(LogLocator(base=10, subs=np.arange(2, 10)))
ax.yaxis.set_minor_formatter(NullFormatter())

ax.tick_params(axis='both', which='both', direction='in', top=False, right=False,
               color='#333333', width=1.5)
ax.tick_params(axis='y', which='major', length=34.5, pad=10, labelsize=30)
ax.tick_params(axis='y', which='minor', length=17.5)
ax.tick_params(axis='x', which='major', length=19.4, pad=19, labelsize=30)
ax.tick_params(axis='x', which='minor', length=9.5)
for s in ax.spines.values():
    s.set_linewidth(2.2)
    s.set_color('#222222')

fig.text(44.5 / 1708, 1 - 12 / 1035, 'LY [keV/MeV]', rotation=90, ha='center', va='top', fontsize=38)
fig.text(1701 / 1708, 12 / 1035, 'Energy [keV]', ha='right', va='baseline', fontsize=37.5)

fig.savefig('out.png', dpi=100)
